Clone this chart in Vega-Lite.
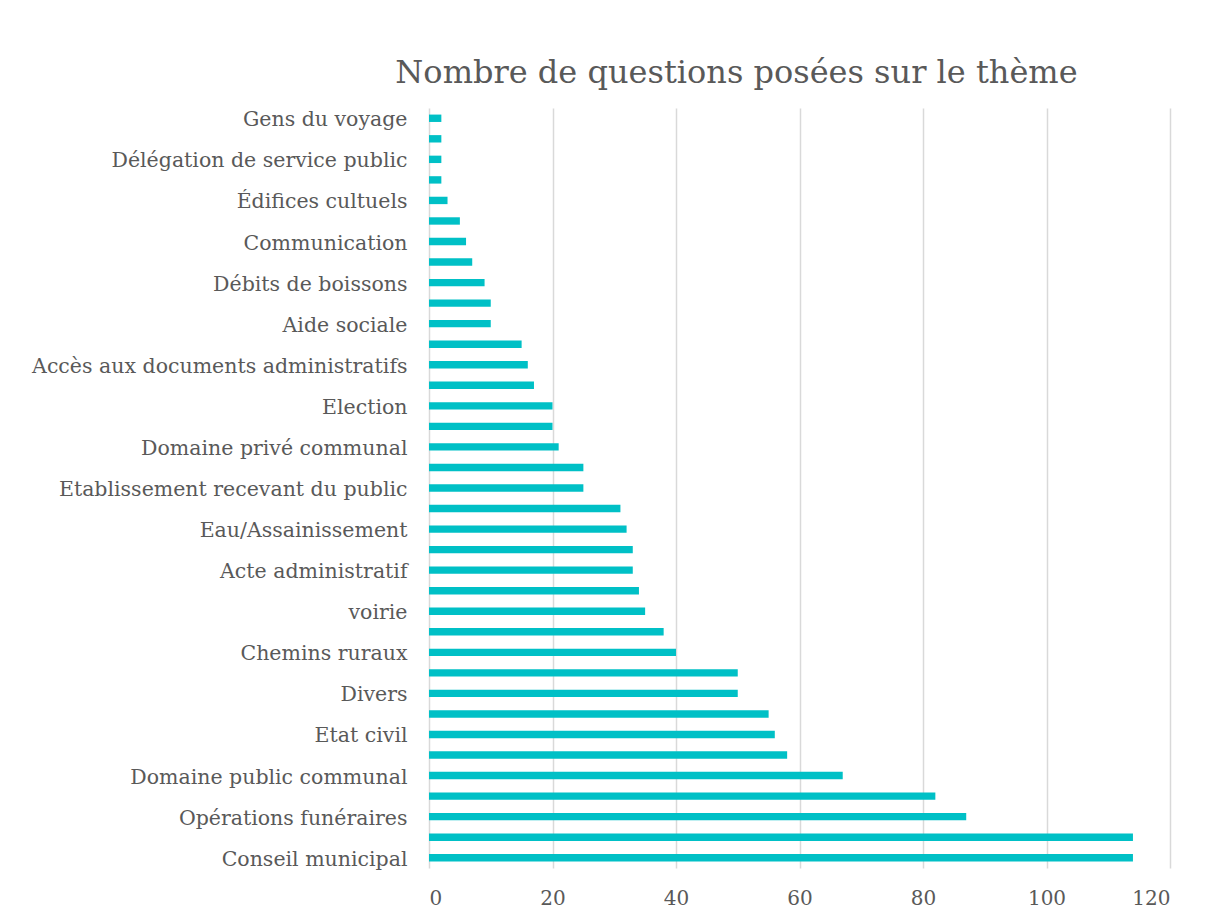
{
  "$schema": "https://vega.github.io/schema/vega-lite/v6.json",
  "width": 741,
  "height": 760,
  "autosize": {"type": "none"},
  "padding": {"left": 429, "top": 108, "right": 38, "bottom": 52},
  "background": "white",
  "title": {
    "text": "Nombre de questions posées sur le thème",
    "font": "DejaVu Serif",
    "fontSize": 32,
    "fontWeight": "normal",
    "color": "#595959",
    "anchor": "middle",
    "dx": -63,
    "offset": 18
  },
  "data": {
    "values": [
      {"rang": 1, "theme": "Gens du voyage", "n": 2},
      {"rang": 2, "theme": "", "n": 2},
      {"rang": 3, "theme": "Délégation de service public", "n": 2},
      {"rang": 4, "theme": "", "n": 2},
      {"rang": 5, "theme": "Édifices cultuels", "n": 3},
      {"rang": 6, "theme": "", "n": 5},
      {"rang": 7, "theme": "Communication", "n": 6},
      {"rang": 8, "theme": "", "n": 7},
      {"rang": 9, "theme": "Débits de boissons", "n": 9},
      {"rang": 10, "theme": "", "n": 10},
      {"rang": 11, "theme": "Aide sociale", "n": 10},
      {"rang": 12, "theme": "", "n": 15},
      {"rang": 13, "theme": "Accès aux documents administratifs", "n": 16},
      {"rang": 14, "theme": "", "n": 17},
      {"rang": 15, "theme": "Election", "n": 20},
      {"rang": 16, "theme": "", "n": 20},
      {"rang": 17, "theme": "Domaine privé communal", "n": 21},
      {"rang": 18, "theme": "", "n": 25},
      {"rang": 19, "theme": "Etablissement recevant du public", "n": 25},
      {"rang": 20, "theme": "", "n": 31},
      {"rang": 21, "theme": "Eau/Assainissement", "n": 32},
      {"rang": 22, "theme": "", "n": 33},
      {"rang": 23, "theme": "Acte administratif", "n": 33},
      {"rang": 24, "theme": "", "n": 34},
      {"rang": 25, "theme": "voirie", "n": 35},
      {"rang": 26, "theme": "", "n": 38},
      {"rang": 27, "theme": "Chemins ruraux", "n": 40},
      {"rang": 28, "theme": "", "n": 50},
      {"rang": 29, "theme": "Divers", "n": 50},
      {"rang": 30, "theme": "", "n": 55},
      {"rang": 31, "theme": "Etat civil", "n": 56},
      {"rang": 32, "theme": "", "n": 58},
      {"rang": 33, "theme": "Domaine public communal", "n": 67},
      {"rang": 34, "theme": "", "n": 82},
      {"rang": 35, "theme": "Opérations funéraires", "n": 87},
      {"rang": 36, "theme": "", "n": 114},
      {"rang": 37, "theme": "Conseil municipal", "n": 114}
    ]
  },
  "mark": {"type": "bar", "color": "#00C0C6"},
  "encoding": {
    "y": {
      "field": "rang",
      "type": "ordinal",
      "sort": "ascending",
      "scale": {"paddingInner": 0.64, "paddingOuter": 0.32},
      "axis": {
        "title": null,
        "domain": false,
        "ticks": false,
        "grid": false,
        "labelFont": "DejaVu Serif",
        "labelFontSize": 20.5,
        "labelColor": "#595959",
        "labelPadding": 22,
        "labelOffset": 2,
        "labelLimit": 420,
        "labelExpr": "['Gens du voyage','','Délégation de service public','','Édifices cultuels','','Communication','','Débits de boissons','','Aide sociale','','Accès aux documents administratifs','','Election','','Domaine privé communal','','Etablissement recevant du public','','Eau/Assainissement','','Acte administratif','','voirie','','Chemins ruraux','','Divers','','Etat civil','','Domaine public communal','','Opérations funéraires','','Conseil municipal'][datum.value - 1]"
      }
    },
    "x": {
      "field": "n",
      "type": "quantitative",
      "scale": {"domain": [0, 120], "nice": false},
      "axis": {
        "title": null,
        "values": [0, 20, 40, 60, 80, 100, 120],
        "domain": false,
        "ticks": false,
        "grid": true,
        "gridColor": "#d9d9d9",
        "gridWidth": 1.5,
        "labelFont": "DejaVu Serif",
        "labelFontSize": 20,
        "labelColor": "#595959",
        "labelPadding": 20
      }
    }
  },
  "config": {"view": {"stroke": null}}
}
